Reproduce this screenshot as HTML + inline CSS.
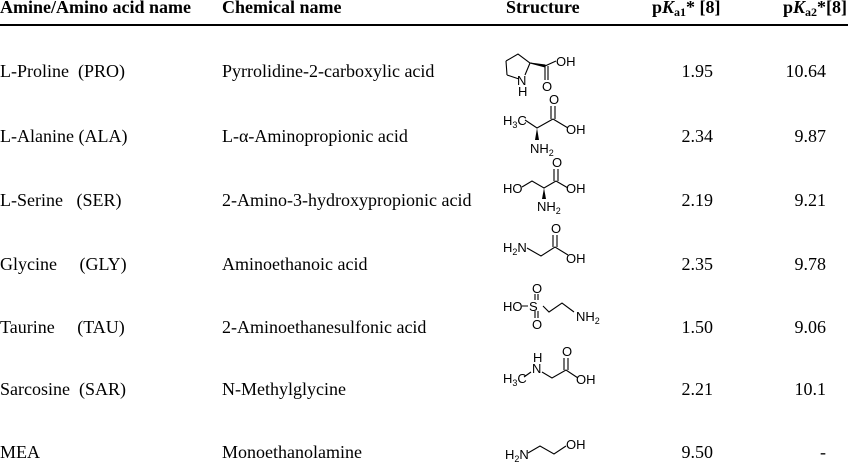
<!DOCTYPE html>
<html><head><style>
body{margin:0;background:#fff;}
svg{display:block}
text{white-space:pre}
.t{font-family:"Liberation Serif",serif;font-size:18px;fill:#000}
.h{font-family:"Liberation Serif",serif;font-size:18px;font-weight:bold;fill:#000}
.s{font-family:"Liberation Sans",sans-serif;font-size:13px;fill:#000}
.b{stroke:#000;stroke-width:1.1;fill:none}
</style></head><body>
<svg width="848" height="462" viewBox="0 0 848 462" xml:space="preserve">
<text class="h" x="0" y="13">Amine/Amino acid name</text>
<text class="h" x="222" y="13">Chemical name</text>
<text class="h" x="506" y="13">Structure</text>
<text class="h" x="652" y="13">p<tspan font-style="italic">K</tspan><tspan font-size="12" dy="3">a1</tspan><tspan dy="-3">* [8]</tspan></text>
<text class="h" x="783" y="13">p<tspan font-style="italic">K</tspan><tspan font-size="12" dy="3">a2</tspan><tspan dy="-3">*[8]</tspan></text>
<rect x="0" y="24" width="848" height="2" fill="#000"/>

<g class="t">
<text x="0" y="77">L-Proline  (PRO)</text><text x="222" y="77">Pyrrolidine-2-carboxylic acid</text><text x="713" y="77" text-anchor="end">1.95</text><text x="826" y="77" text-anchor="end">10.64</text>
<text x="0" y="142">L-Alanine (ALA)</text><text x="222" y="142">L-α-Aminopropionic acid</text><text x="713" y="142" text-anchor="end">2.34</text><text x="826" y="142" text-anchor="end">9.87</text>
<text x="0" y="206">L-Serine   (SER)</text><text x="222" y="206">2-Amino-3-hydroxypropionic acid</text><text x="713" y="206" text-anchor="end">2.19</text><text x="826" y="206" text-anchor="end">9.21</text>
<text x="0" y="270">Glycine     (GLY)</text><text x="222" y="270">Aminoethanoic acid</text><text x="713" y="270" text-anchor="end">2.35</text><text x="826" y="270" text-anchor="end">9.78</text>
<text x="0" y="333">Taurine     (TAU)</text><text x="222" y="333">2-Aminoethanesulfonic acid</text><text x="713" y="333" text-anchor="end">1.50</text><text x="826" y="333" text-anchor="end">9.06</text>
<text x="0" y="395">Sarcosine  (SAR)</text><text x="222" y="395">N-Methylglycine</text><text x="713" y="395" text-anchor="end">2.21</text><text x="826" y="395" text-anchor="end">10.1</text>
<text x="0" y="458">MEA</text><text x="222" y="458">Monoethanolamine</text><text x="713" y="458" text-anchor="end">9.50</text><text x="826" y="458" text-anchor="end">-</text>
</g>

<!-- Proline -->
<path class="b" d="M506,61 L518,54 L530,63 L525,75 M519,79 L507,75 Z M506,61 L507,75"/>
<path d="M530,63 L545,67 L545,65 Z" fill="#000" stroke="#000"/>
<path class="b" d="M545,66 L556,61 M545,66 L545,80 M548,66 L548,80"/>
<text class="s" x="556" y="66">OH</text><text class="s" x="542" y="91">O</text>
<text class="s" x="517" y="85">N</text><text class="s" x="518" y="96">H</text>
<!-- Alanine -->
<text class="s" x="503" y="125">H<tspan font-size="9" dy="3">3</tspan><tspan dy="-3">C</tspan></text>
<path class="b" d="M525,120 L537,128 L553,119 M553,119 L568,128 M551,119 L551,106 M555,119 L555,106"/>
<path d="M537,128 L535,140 L539,140 Z" fill="#000"/>
<text class="s" x="549" y="104">O</text><text class="s" x="566" y="134">OH</text>
<text class="s" x="530" y="153">NH<tspan font-size="9" dy="3">2</tspan></text>
<!-- Serine -->
<text class="s" x="503" y="193">HO</text>
<path class="b" d="M522,187 L532,181 L544,188 L556,181 M556,181 L568,188 M554,181 L554,169 M558,181 L558,169"/>
<path d="M544,188 L542,199 L546,199 Z" fill="#000"/>
<text class="s" x="552" y="167">O</text><text class="s" x="566" y="193">OH</text>
<text class="s" x="537" y="211">NH<tspan font-size="9" dy="3">2</tspan></text>
<!-- Glycine -->
<text class="s" x="503" y="252">H<tspan font-size="9" dy="3">2</tspan><tspan dy="-3">N</tspan></text>
<path class="b" d="M527,248 L541,256 L555,247 L568,255 M553,247 L553,235 M557,247 L557,235"/>
<text class="s" x="551" y="233">O</text><text class="s" x="566" y="263">OH</text>
<!-- Taurine -->
<text class="s" x="503" y="311">HO</text>
<path class="b" d="M522,306 L528,306 M535,300 L535,294 M538,300 L538,294 M535,311 L535,318 M538,311 L538,318 M543,306 L549,312 L562,303 L574,312"/>
<text class="s" x="529" y="311">S</text><text class="s" x="532" y="293">O</text><text class="s" x="532" y="329">O</text>
<text class="s" x="576" y="321">NH<tspan font-size="9" dy="3">2</tspan></text>
<!-- Sarcosine -->
<text class="s" x="503" y="383">H<tspan font-size="9" dy="3">3</tspan><tspan dy="-3">C</tspan></text>
<path class="b" d="M524,377 L531,372 M542,372 L552,378 L566,370 L578,378 M564,370 L564,358 M568,370 L568,358"/>
<text class="s" x="532" y="373">N</text><text class="s" x="533" y="362">H</text>
<text class="s" x="562" y="356">O</text><text class="s" x="576" y="384">OH</text>
<!-- MEA -->
<text class="s" x="505" y="459">H<tspan font-size="9" dy="3">2</tspan><tspan dy="-3">N</tspan></text>
<path class="b" d="M528,453 L540,446 L554,454 L566,446"/>
<text class="s" x="566" y="449">OH</text>
</svg>
</body></html>
